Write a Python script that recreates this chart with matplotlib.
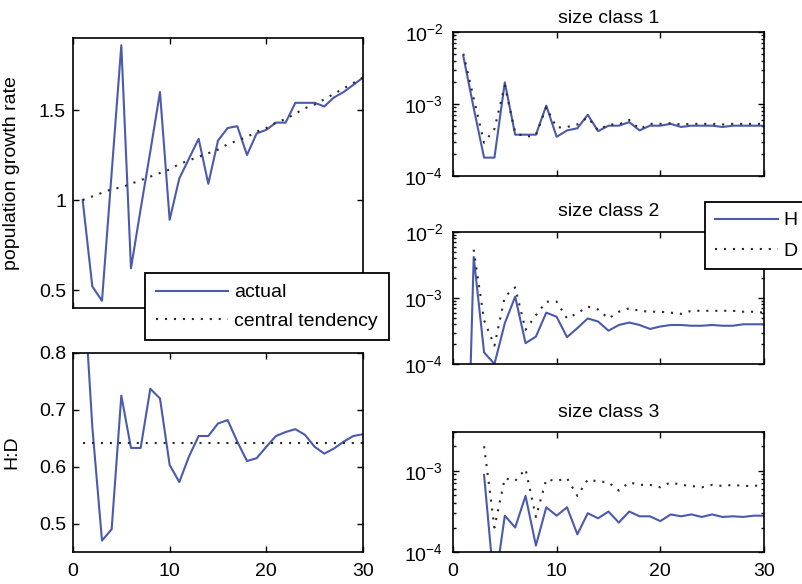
import numpy as np
import matplotlib
matplotlib.use('Agg')
import matplotlib.pyplot as plt
from matplotlib.ticker import NullFormatter

plt.rcParams['font.family'] = ['Liberation Sans', 'DejaVu Sans']
plt.rcParams['font.size'] = 14
plt.rcParams['mathtext.fontset'] = 'custom'
plt.rcParams['mathtext.rm'] = 'Liberation Sans'

# time steps
t = np.arange(1, 31)

# population growth rate
growth_actual = [1.00, 0.52, 0.44, 1.15, 1.86, 0.62, 0.95, 1.27, 1.60, 0.89,
                 1.12, 1.23, 1.34, 1.09, 1.33, 1.40, 1.41, 1.25, 1.37, 1.39,
                 1.43, 1.43, 1.54, 1.54, 1.54, 1.52, 1.57, 1.60, 1.64, 1.68]
growth_central = [1.00, 1.02, 1.04, 1.06, 1.07, 1.09, 1.11, 1.13, 1.15, 1.17,
                  1.20, 1.22, 1.24, 1.26, 1.28, 1.31, 1.33, 1.35, 1.38, 1.40,
                  1.43, 1.45, 1.48, 1.51, 1.53, 1.56, 1.59, 1.62, 1.65, 1.68]

# H:D ratio
hd_actual = [0.95, 0.67, 0.47, 0.49, 0.725, 0.633, 0.633, 0.737, 0.72, 0.603,
             0.573, 0.618, 0.654, 0.654, 0.676, 0.682, 0.644, 0.61, 0.615, 0.635,
             0.654, 0.661, 0.666, 0.656, 0.635, 0.623, 0.632, 0.644, 0.654, 0.657]
hd_central = 0.642

nan = np.nan
# size class 1
sc1_H = [4.6e-3, 8.8e-4, 1.8e-4, 1.8e-4, 2.0e-3, 3.75e-4, 3.75e-4, 3.75e-4, 9.5e-4, 3.5e-4,
         4.3e-4, 4.6e-4, 7.1e-4, 4.2e-4, 5.0e-4, 5.0e-4, 5.6e-4, 4.3e-4, 5.0e-4, 5.0e-4,
         5.3e-4, 4.8e-4, 5.0e-4, 5.0e-4, 5.0e-4, 4.8e-4, 5.0e-4, 5.0e-4, 5.0e-4, 5.0e-4]
sc1_D = [5.0e-3, 1.2e-3, 2.9e-4, 4.5e-4, 1.8e-3, 4.0e-4, 3.5e-4, 3.7e-4, 9.0e-4, 4.7e-4,
         4.8e-4, 5.2e-4, 6.5e-4, 4.3e-4, 5.2e-4, 5.2e-4, 6.0e-4, 4.5e-4, 5.3e-4, 5.3e-4,
         5.4e-4, 5.2e-4, 5.3e-4, 5.3e-4, 5.3e-4, 5.2e-4, 5.3e-4, 5.3e-4, 5.3e-4, 5.3e-4]
# size class 2
sc2_H = [1e-8, 4.2e-3, 1.5e-4, 1.0e-4, 4.15e-4, 1.05e-3, 2.07e-4, 2.6e-4, 6.0e-4, 5.2e-4,
         2.55e-4, 3.5e-4, 4.9e-4, 4.4e-4, 3.2e-4, 3.9e-4, 4.25e-4, 3.9e-4, 3.4e-4, 3.7e-4,
         3.9e-4, 3.9e-4, 3.8e-4, 3.8e-4, 3.9e-4, 3.8e-4, 3.8e-4, 4.0e-4, 4.0e-4, 4.0e-4]
sc2_D = [nan, 5.4e-3, 4.6e-4, 1.9e-4, 1.05e-3, 1.45e-3, 3.3e-4, 5.5e-4, 8.8e-4, 8.8e-4,
         4.9e-4, 5.9e-4, 7.4e-4, 6.7e-4, 4.9e-4, 6.2e-4, 7.0e-4, 6.4e-4, 6.2e-4, 6.2e-4,
         6.0e-4, 5.75e-4, 6.4e-4, 6.4e-4, 6.4e-4, 6.4e-4, 6.4e-4, 6.2e-4, 6.2e-4, 6.0e-4]
# size class 3
sc3_H = [nan, nan, 8.9e-4, 3.5e-5, 2.8e-4, 2.0e-4, 4.9e-4, 1.2e-4, 3.55e-4, 2.8e-4,
         3.55e-4, 1.65e-4, 3.0e-4, 2.6e-4, 3.15e-4, 2.3e-4, 3.15e-4, 2.75e-4, 2.75e-4, 2.4e-4,
         2.9e-4, 2.75e-4, 2.9e-4, 2.7e-4, 2.9e-4, 2.7e-4, 2.75e-4, 2.7e-4, 2.8e-4, 2.8e-4]
sc3_D = [nan, nan, 2.0e-3, 2.0e-4, 8.1e-4, 7.5e-4, 1.05e-3, 2.7e-4, 7.8e-4, 7.5e-4,
         8.1e-4, 4.9e-4, 7.8e-4, 7.4e-4, 7.2e-4, 5.7e-4, 7.2e-4, 6.7e-4, 6.7e-4, 6.25e-4,
         7.2e-4, 6.7e-4, 6.5e-4, 6.25e-4, 6.7e-4, 6.5e-4, 6.7e-4, 6.5e-4, 6.5e-4, 6.7e-4]

blue = '#4b5aad'
dotc = '#2a2a2a'
dots = (0, (1, 3.3))

fig = plt.figure(figsize=(8.02, 5.84), dpi=100)

ax1 = fig.add_axes([0.091, 0.4726, 0.3616, 0.4623])
ax2 = fig.add_axes([0.091, 0.0548, 0.3616, 0.3408])
ax3 = fig.add_axes([0.5648, 0.6986, 0.3878, 0.2466])
ax4 = fig.add_axes([0.5648, 0.3767, 0.3878, 0.2260])
ax5 = fig.add_axes([0.5648, 0.0548, 0.3878, 0.2055])

for ax in [ax1, ax2, ax3, ax4, ax5]:
    ax.set_xlim(0, 30)
    ax.set_xticks([0, 10, 20, 30])
    ax.tick_params(which='both', direction='in', top=True, right=True, width=1)
    ax.tick_params(which='major', length=4.5, labelsize=14)
    ax.tick_params(which='minor', length=2.5)
    ax.tick_params(axis='y', pad=5)
    ax.tick_params(axis='x', pad=8)
    for s in ax.spines.values():
        s.set_linewidth(1.2)

# population growth rate
l1, = ax1.plot(t, growth_actual, color=blue, lw=1.5, label='actual')
l2, = ax1.plot(t, growth_central, color=dotc, lw=1.5, linestyle=dots, label='central tendency')
ax1.set_ylim(0.4, 1.9)
ax1.set_yticks([0.5, 1, 1.5])
ax1.set_yticklabels(['0.5', '1', '1.5'])
ax1.set_xticklabels([])
ax1.set_ylabel('population growth rate')
ax1.yaxis.set_label_coords(-0.183, 0.5)
leg1 = fig.legend(handles=[l1, l2], loc='upper left', bbox_to_anchor=(145/802, 1 - 273/584),
                  frameon=True, fancybox=False, framealpha=1, edgecolor='black',
                  handlelength=3.7, handletextpad=0.35, borderpad=0.55, labelspacing=0.55,
                  borderaxespad=0, fontsize=14)
leg1.get_frame().set_linewidth(1.3)

# H:D
ax2.plot(t, hd_actual, color=blue, lw=1.5)
ax2.hlines(hd_central, 1, 30, color=dotc, lw=1.5, linestyle=dots)
ax2.set_ylim(0.45, 0.8)
ax2.set_yticks([0.5, 0.6, 0.7, 0.8])
ax2.set_ylabel('H:D')
ax2.yaxis.set_label_coords(-0.183, 0.5)

# size classes
specs = [(ax3, sc1_H, sc1_D, 'size class 1', (1e-4, 1e-2), 6.5),
         (ax4, sc2_H, sc2_D, 'size class 2', (1e-4, 1e-2), 11.5),
         (ax5, sc3_H, sc3_D, 'size class 3', (1e-4, 3e-3), 11)]
for ax, h, d, title, ylim, pad in specs:
    hl, = ax.semilogy(t, h, color=blue, lw=1.5, label='H')
    dl, = ax.semilogy(t, d, color=dotc, lw=1.5, linestyle=dots, label='D')
    ax.set_ylim(*ylim)
    ax.yaxis.set_minor_formatter(NullFormatter())
    ax.set_title(title, fontsize=14, pad=pad)
    ax.tick_params(axis='y', pad=7)
    if ax is not ax5:
        ax.set_xticklabels([])

ax5.set_yticks([1e-4, 1e-3])

leg2 = fig.legend(handles=[hl, dl], loc='upper left', bbox_to_anchor=(705/802, 1 - 202/584),
                  frameon=True, fancybox=False, framealpha=1, edgecolor='black',
                  handlelength=3.25, handletextpad=0.3, borderpad=0.5, labelspacing=0.65,
                  borderaxespad=0, fontsize=14)
leg2.get_frame().set_linewidth(1.3)

fig.savefig('out.png', dpi=100)
